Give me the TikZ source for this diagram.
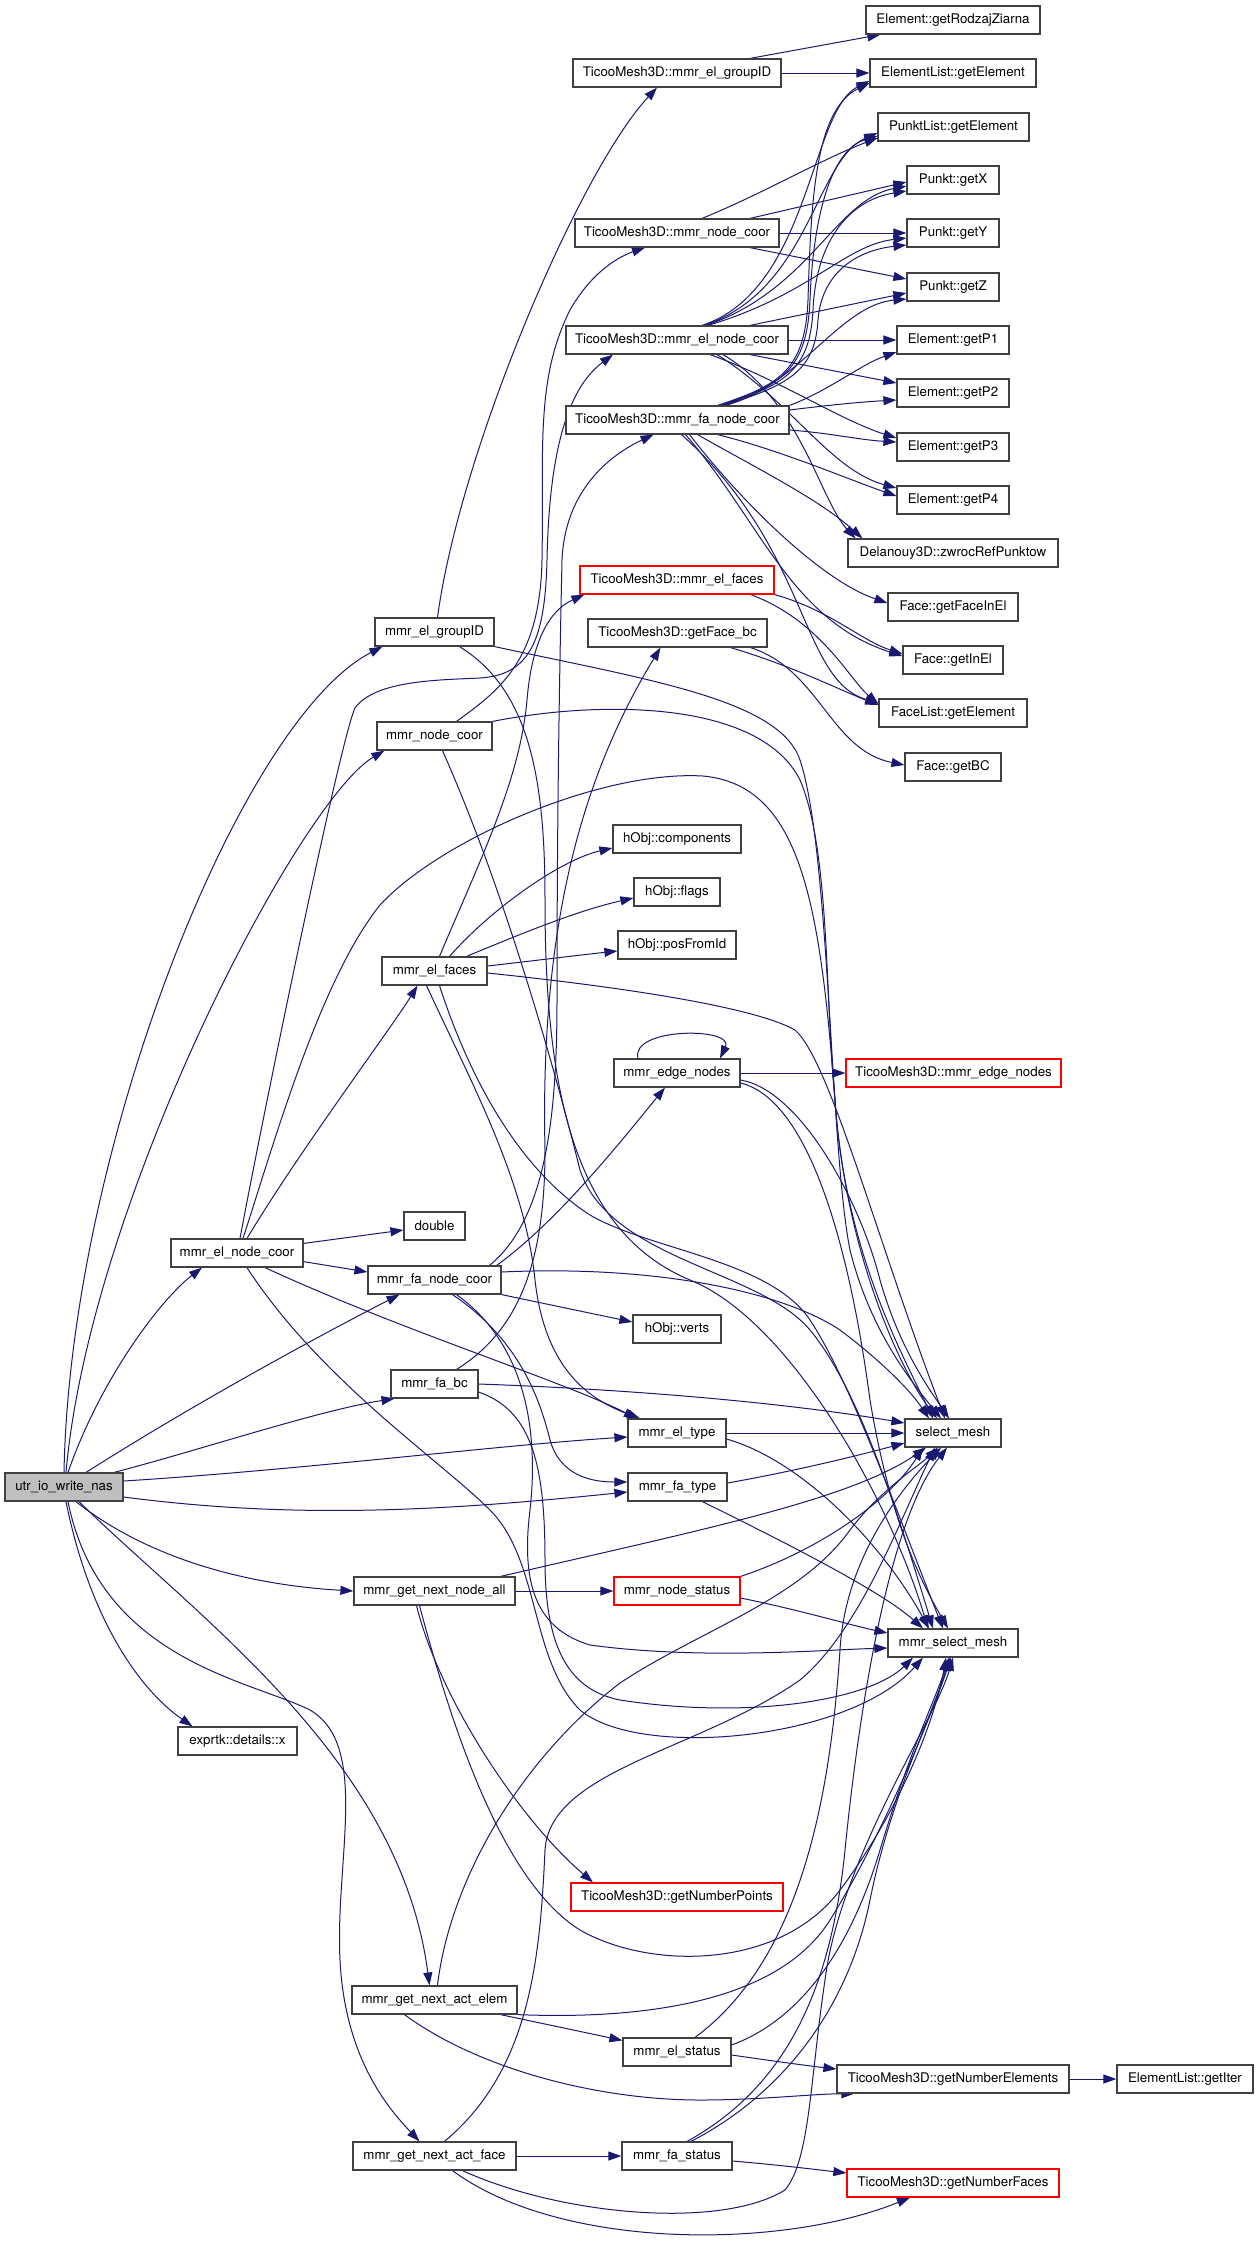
\documentclass[tikz,border=0pt]{standalone}
\usepackage{fontspec}
\setmainfont{TeX Gyre Heros}
\usetikzlibrary{arrows.meta}
\definecolor{edgec}{HTML}{191970}
\definecolor{boxc}{HTML}{404040}
\definecolor{redc}{HTML}{FF0000}
\definecolor{grayf}{HTML}{BFBFBF}
\pgfdeclarelayer{bg}
\pgfsetlayers{bg,main}
\tikzset{
  fn/.style={draw=boxc, line width=1.2pt, fill=white, minimum height=28pt, inner xsep=2pt, inner ysep=0pt, font=\fontsize{13.3}{15}\selectfont},
  fnred/.style={fn, draw=redc},
  e/.style={draw=edgec, line width=1pt, -{Triangle[length=13pt,width=9pt]}},
}
\begin{document}
\begin{tikzpicture}[x=1pt,y=-1pt]
\useasboundingbox (0,0) rectangle (1259,2244);
% column 0-2
\node[fn,fill=grayf,minimum width=118pt] (U) at (64,1487) {utr\_io\_write\_nas};
\node[fn,minimum width=132pt] (ENC) at (237,1253) {mmr\_el\_node\_coor};
\node[fn,minimum width=119pt] (X) at (237.5,1741) {exprtk::details::x};
\node[fn,minimum width=119pt] (G) at (434.5,632) {mmr\_el\_groupID};
\node[fn,minimum width=115pt] (N) at (434.5,736) {mmr\_node\_coor};
\node[fn,minimum width=105pt] (EF) at (434.5,971) {mmr\_el\_faces};
\node[fn,minimum width=61pt] (DBL) at (434.5,1226) {double};
\node[fn,minimum width=133pt] (FNC) at (434.5,1280) {mmr\_fa\_node\_coor};
\node[fn,minimum width=87pt] (FBC) at (434.5,1384) {mmr\_fa\_bc};
\node[fn,minimum width=161pt] (GNNA) at (434.5,1591) {mmr\_get\_next\_node\_all};
\node[fn,minimum width=165pt] (GNAE) at (434.5,2000) {mmr\_get\_next\_act\_elem};
\node[fn,minimum width=163pt] (GNAF) at (434.5,2156) {mmr\_get\_next\_act\_face};
% column 3
\node[fn,minimum width=208pt] (TG) at (677,73) {TicooMesh3D::mmr\_el\_groupID};
\node[fn,minimum width=204pt] (TN) at (677,233) {TicooMesh3D::mmr\_node\_coor};
\node[fn,minimum width=222pt] (TE) at (677,340) {TicooMesh3D::mmr\_el\_node\_coor};
\node[fn,minimum width=223pt] (TF) at (677.5,420) {TicooMesh3D::mmr\_fa\_node\_coor};
\node[fnred,minimum width=194pt] (TEF) at (677,580) {TicooMesh3D::mmr\_el\_faces};
\node[fn,minimum width=179pt] (TFB) at (677.5,633) {TicooMesh3D::getFace\_bc};
\node[fn,minimum width=128pt] (HC) at (677,839) {hObj::components};
\node[fn,minimum width=86pt] (HF) at (677,892) {hObj::flags};
\node[fn,minimum width=118pt] (HP) at (677,945) {hObj::posFromId};
\node[fn,minimum width=126pt] (EN) at (677,1073) {mmr\_edge\_nodes};
\node[fn,minimum width=88pt] (HV) at (677,1329) {hObj::verts};
\node[fn,minimum width=98pt] (ET) at (677,1433) {mmr\_el\_type};
\node[fn,minimum width=99pt] (FT) at (677.5,1487) {mmr\_fa\_type};
\node[fnred,minimum width=126pt] (NS) at (677,1591) {mmr\_node\_status};
\node[fnred,minimum width=212pt] (GNP) at (677,1897) {TicooMesh3D::getNumberPoints};
\node[fn,minimum width=108pt] (ES) at (677,2052) {mmr\_el\_status};
\node[fn,minimum width=110pt] (FS) at (677,2156) {mmr\_fa\_status};
% column 4
\node[fn,minimum width=174pt] (RZ) at (953,20) {Element::getRodzajZiarna};
\node[fn,minimum width=166pt] (ELG) at (953,73) {ElementList::getElement};
\node[fn,minimum width=151pt] (PLG) at (953.5,127) {PunktList::getElement};
\node[fn,minimum width=92pt] (PX) at (953,180) {Punkt::getX};
\node[fn,minimum width=92pt] (PY) at (953,233) {Punkt::getY};
\node[fn,minimum width=92pt] (PZ) at (953,287) {Punkt::getZ};
\node[fn,minimum width=112pt] (P1) at (953,340) {Element::getP1};
\node[fn,minimum width=112pt] (P2) at (953,393) {Element::getP2};
\node[fn,minimum width=112pt] (P3) at (953,447) {Element::getP3};
\node[fn,minimum width=112pt] (P4) at (953,500) {Element::getP4};
\node[fn,minimum width=210pt] (DZ) at (953,553) {Delanouy3D::zwrocRefPunktow};
\node[fn,minimum width=130pt] (FIE) at (953,607) {Face::getFaceInEl};
\node[fn,minimum width=100pt] (FIN) at (953,660) {Face::getInEl};
\node[fn,minimum width=148pt] (FLG) at (953,713) {FaceList::getElement};
\node[fn,minimum width=96pt] (FBCn) at (953,767) {Face::getBC};
\node[fnred,minimum width=215pt] (TEN) at (953.5,1073) {TicooMesh3D::mmr\_edge\_nodes};
\node[fn,minimum width=96pt] (SM) at (953,1433) {select\_mesh};
\node[fn,minimum width=130pt] (MSM) at (953,1643) {mmr\_select\_mesh};
\node[fn,minimum width=232pt] (GNE) at (953,2079) {TicooMesh3D::getNumberElements};
\node[fnred,minimum width=212pt] (GNF) at (953,2183) {TicooMesh3D::getNumberFaces};
\node[fn,minimum width=136pt] (EGI) at (1185,2079) {ElementList::getIter};

\begin{pgfonlayer}{bg}
% utr_io_write_nas
\draw[e] (U.north) .. controls (70,1150) and (240,720) .. ([xshift=8pt]G.south west);
\draw[e] ([xshift=2pt]U.north) .. controls (90,1200) and (300,800) .. ([xshift=8pt]N.south west);
\draw[e] ([xshift=4pt]U.north) .. controls (100,1380) and (160,1300) .. ([xshift=-35pt]ENC.south);
\draw[e] ([xshift=22pt]U.north) .. controls (200,1400) and (330,1330) .. ([xshift=-35pt]FNC.south);
\draw[e] ([xshift=50pt]U.north) .. controls (200,1450) and (320,1410) .. ([xshift=-40pt]FBC.south);
\draw[e] ([yshift=6pt]U.east) .. controls (300,1470) and (500,1445) .. ([yshift=-4pt]ET.west);
\draw[e] ([yshift=-10pt]U.east) .. controls (300,1520) and (450,1510) .. ([yshift=-5pt]FT.west);
\draw[e] ([xshift=12pt]U.south) .. controls (150,1560) and (250,1585) .. (GNNA.west);
\draw[e] ([xshift=2pt]U.south) .. controls (90,1620) and (140,1690) .. ([xshift=-45pt]X.north);
\draw[e] ([xshift=15pt]U.south) .. controls (200,1620) and (400,1760) .. ([xshift=-5pt]GNAE.north);
\draw[e] ([xshift=4pt]U.south) .. controls (100,1660) and (250,1680) .. (310,1710) .. controls (370,1745) and (335,1860) .. (340,1960) .. controls (345,2060) and (390,2110) .. ([xshift=-15pt]GNAF.north);
% mmr_el_node_coor
\draw[e] ([xshift=3pt]ENC.north) .. controls (262,1120) and (340,740) .. (355,708) .. controls (375,680) and (440,680) .. (480,678) .. controls (530,675) and (545,640) .. (547,560) .. controls (549,460) and (565,390) .. ([xshift=-64pt]TE.south);
\draw[e] ([xshift=6pt]ENC.north) .. controls (275,1140) and (320,980) .. (380,905) .. controls (440,840) and (600,770) .. (703,776) .. controls (800,785) and (820,900) .. (835,1100) .. controls (845,1250) and (900,1350) .. ([xshift=-20pt]SM.north);
\draw[e] ([xshift=10pt]ENC.north) .. controls (300,1150) and (390,1030) .. ([xshift=-17pt]EF.south);
\draw[e] ([yshift=-5pt]ENC.north east) -- ([yshift=-4pt]DBL.west);
\draw[e] ([yshift=6pt]ENC.south east) -- ([yshift=8pt]FNC.west);
\draw[e] ([xshift=28pt]ENC.south) .. controls (400,1330) and (560,1380) .. ([xshift=-40pt]ET.north);
\draw[e] ([xshift=10pt]ENC.south) .. controls (320,1380) and (440,1460) .. (490,1510) .. controls (540,1560) and (530,1660) .. (580,1710) .. controls (640,1760) and (850,1740) .. ([xshift=-30pt]MSM.south);
% mmr_el_groupID
\draw[e] ([xshift=3pt]G.north) .. controls (460,450) and (580,170) .. ([xshift=-20pt]TG.south);
\draw[e] (G.south east) .. controls (650,680) and (780,700) .. (800,760) .. controls (830,850) and (830,1150) .. (850,1250) .. controls (870,1330) and (910,1380) .. ([xshift=-12pt]SM.north);
\draw[e] ([xshift=25pt]G.south) .. controls (530,690) and (545,780) .. (545,900) .. controls (545,1080) and (570,1230) .. (690,1280) .. controls (790,1320) and (890,1500) .. ([xshift=-25pt]MSM.north);
% mmr_node_coor
\draw[e] ([xshift=22pt]N.north) .. controls (500,690) and (540,660) .. (542,560) .. controls (544,450) and (535,380) .. (570,310) .. controls (590,275) and (615,258) .. ([xshift=-32pt]TN.south);
\draw[e] (N.north east) .. controls (600,700) and (760,700) .. (800,780) .. controls (830,850) and (825,1000) .. (835,1100) .. controls (845,1250) and (900,1370) .. ([xshift=-16pt]SM.north);
\draw[e] ([xshift=8pt]N.south) .. controls (500,880) and (550,1050) .. (580,1170) .. controls (610,1260) and (760,1270) .. (810,1330) .. controls (860,1390) and (900,1520) .. ([xshift=-20pt]MSM.north);
% mmr_el_faces
\draw[e] ([xshift=5pt]EF.north) .. controls (480,860) and (520,780) .. (527,700) .. controls (532,640) and (550,610) .. ([xshift=5pt]TEF.south west);
\draw[e] ([xshift=15pt]EF.north) .. controls (490,910) and (560,860) .. ([yshift=-9pt]HC.west);
\draw[e] ([xshift=32pt]EF.north) .. controls (530,930) and (580,910) .. ([yshift=-6pt]HF.west);
\draw[e] ([yshift=5pt]EF.east) .. controls (540,960) and (580,955) .. ([yshift=-6pt]HP.west);
\draw[e] ([yshift=-2pt]EF.east) .. controls (650,990) and (760,1010) .. (795,1030) .. controls (830,1060) and (880,1250) .. ([xshift=-8pt]SM.north);
\draw[e] ([xshift=-8pt]EF.south) .. controls (470,1080) and (525,1180) .. (535,1280) .. controls (545,1370) and (590,1400) .. ([xshift=-37pt]ET.north);
\draw[e] ([xshift=5pt]EF.south) .. controls (470,1080) and (520,1170) .. (590,1215) .. controls (650,1250) and (770,1260) .. (810,1320) .. controls (850,1380) and (900,1520) .. ([xshift=-10pt]MSM.north);
% mmr_fa_node_coor
\draw[e] ([xshift=55pt]FNC.north) .. controls (545,1220) and (557,1120) .. (557,1000) .. controls (557,800) and (560,650) .. (562,560) .. controls (565,490) and (610,455) .. ([xshift=-24pt]TF.south);
\draw[e] ([xshift=-5pt]FNC.north east) .. controls (560,1220) and (630,1130) .. ([xshift=-12pt]EN.south);
\draw[e] ([yshift=8pt]FNC.east) .. controls (650,1265) and (780,1290) .. (840,1330) .. controls (880,1360) and (910,1390) .. ([xshift=-24pt]SM.north);
\draw[e] (FNC.south east) -- ([yshift=7pt]HV.west);
\draw[e] ([xshift=18pt]FNC.south) .. controls (520,1340) and (540,1400) .. (550,1440) .. controls (560,1475) and (590,1482) .. ([yshift=5pt]FT.west);
\draw[e] ([xshift=22pt]FNC.south) .. controls (520,1340) and (540,1420) .. (530,1510) .. controls (520,1590) and (540,1630) .. (590,1645) .. controls (700,1660) and (820,1650) .. ([yshift=-5pt]MSM.west);
% mmr_fa_bc
\draw[e] ([xshift=22pt]FBC.north) .. controls (520,1330) and (545,1260) .. (545,1150) .. controls (540,930) and (580,780) .. ([xshift=-17pt]TFB.south);
\draw[e] (FBC.east) .. controls (650,1390) and (800,1405) .. ([yshift=10pt]SM.west);
\draw[e] ([yshift=-8pt]FBC.east) .. controls (530,1410) and (545,1460) .. (545,1560) .. controls (545,1650) and (570,1690) .. (620,1700) .. controls (750,1720) and (870,1700) .. ([xshift=-40pt]MSM.south);
% mmr_edge_nodes
\draw[e] ([xshift=-39pt]EN.north) .. controls (630,1027) and (735,1027) .. ([xshift=43pt]EN.north);
\draw[e] (EN.east) -- (TEN.west);
\draw[e] ([yshift=-7pt]EN.east) .. controls (800,1090) and (860,1200) .. (880,1280) .. controls (900,1350) and (930,1390) .. ([xshift=-4pt]SM.north);
\draw[e] ([yshift=-10pt]EN.east) .. controls (810,1100) and (850,1250) .. (870,1400) .. controls (890,1520) and (920,1580) .. ([xshift=-5pt]MSM.north);
% el_type, fa_type
\draw[e] (ET.east) -- (SM.west);
\draw[e] ([yshift=-6pt]ET.east) .. controls (800,1460) and (880,1540) .. ([xshift=-24pt]MSM.north);
\draw[e] ([yshift=4pt]FT.east) .. controls (800,1470) and (860,1455) .. ([yshift=-10pt]SM.west);
\draw[e] ([xshift=25pt]FT.south) .. controls (780,1540) and (880,1590) .. ([xshift=-30pt]MSM.north);
% node_status
\draw[e] (NS.north east) .. controls (820,1550) and (890,1500) .. ([xshift=-30pt]SM.south);
\draw[e] ([yshift=-7pt]NS.east) .. controls (800,1610) and (850,1625) .. ([yshift=10pt]MSM.west);
% get_next_node_all
\draw[e] (GNNA.east) -- (NS.west);
\draw[e] ([xshift=-15pt]GNNA.north east) .. controls (700,1530) and (850,1500) .. ([xshift=-27pt]SM.south);
\draw[e] ([xshift=-18pt]GNNA.south) .. controls (440,1700) and (520,1820) .. ([xshift=-84pt]GNP.north);
\draw[e] ([xshift=-15pt]GNNA.south) .. controls (450,1720) and (500,1880) .. (580,1930) .. controls (650,1970) and (780,1970) .. (840,1890) .. controls (900,1810) and (935,1720) .. ([xshift=-7pt]MSM.south);
% get_next_act_elem
\draw[e] ([xshift=3pt]GNAE.north) .. controls (450,1880) and (520,1760) .. (620,1683) .. controls (700,1630) and (800,1600) .. (850,1530) .. controls (880,1490) and (920,1465) .. ([xshift=-15pt]SM.south);
\draw[e] ([xshift=-17pt]GNAE.south east) -- ([yshift=-3pt]ES.north west);
\draw[e] (GNAE.south east) .. controls (650,2020) and (780,2000) .. (830,1920) .. controls (880,1840) and (930,1720) .. ([xshift=-2pt]MSM.south);
\draw[e] ([xshift=-30pt]GNAE.south) .. controls (480,2070) and (600,2100) .. (700,2100) .. controls (760,2100) and (810,2094) .. ([xshift=18pt]GNE.south west);
% el_status
\draw[e] ([xshift=18pt]ES.north) .. controls (800,1960) and (830,1800) .. (840,1650) .. controls (845,1560) and (900,1490) .. ([xshift=-12pt]SM.south);
\draw[e] ([yshift=7pt]ES.east) .. controls (800,2020) and (850,1950) .. (880,1850) .. controls (910,1750) and (935,1700) .. ([xshift=-4pt]MSM.south);
\draw[e] ([yshift=-3pt]ES.east) .. controls (780,2062) and (810,2066) .. ([yshift=10pt]GNE.west);
% fa_status
\draw[e] ([xshift=10pt]FS.north) .. controls (780,2090) and (830,2000) .. (845,1850) .. controls (860,1700) and (890,1520) .. ([xshift=-6pt]SM.south);
\draw[e] ([xshift=14pt]FS.north) .. controls (790,2090) and (850,2000) .. (870,1900) .. controls (890,1800) and (930,1720) .. ([xshift=-3pt]MSM.south);
\draw[e] ([yshift=-5pt]FS.east) .. controls (780,2165) and (820,2170) .. ([yshift=10pt]GNF.west);
% get_next_act_face
\draw[e] (GNAF.east) -- (FS.west);
\draw[e] ([xshift=10pt]GNAF.north) .. controls (530,2070) and (540,1960) .. (545,1850) .. controls (550,1770) and (700,1750) .. (800,1680) .. controls (860,1630) and (900,1520) .. ([xshift=-18pt]SM.south);
\draw[e] ([xshift=28pt]GNAF.south) .. controls (560,2215) and (720,2230) .. (785,2190) .. controls (810,2160) and (810,2080) .. (825,1980) .. controls (840,1860) and (935,1720) .. (MSM.south);
\draw[e] ([xshift=18pt]GNAF.south) .. controls (560,2250) and (780,2250) .. ([xshift=-43pt]GNF.south);
\draw[e] (GNE.east) -- (EGI.west);
% TicooMesh3D column
\draw[e] ([xshift=73pt]TG.north) -- ([xshift=15pt]RZ.south west);
\draw[e] (TG.east) -- (ELG.west);
\draw[e] ([xshift=25pt]TN.north) .. controls (760,195) and (820,160) .. ([yshift=-11pt]PLG.west);
\draw[e] ([xshift=73pt]TN.north) -- ([yshift=-2pt]PX.west);
\draw[e] (TN.east) -- (PY.west);
\draw[e] ([xshift=73pt]TN.south) -- ([yshift=8pt]PZ.west);
\draw[e] ([xshift=25pt]TE.north) .. controls (810,290) and (810,110) .. ([yshift=-8pt]ELG.west);
\draw[e] ([xshift=27pt]TE.north) .. controls (810,290) and (815,160) .. ([yshift=-6pt]PLG.west);
\draw[e] ([xshift=29pt]TE.north) .. controls (810,290) and (835,200) .. ([yshift=-6pt]PX.west);
\draw[e] ([xshift=31pt]TE.north) .. controls (810,295) and (845,245) .. ([yshift=-5pt]PY.west);
\draw[e] ([xshift=73pt]TE.north) -- ([yshift=-6pt]PZ.west);
\draw[e] (TE.east) -- (P1.west);
\draw[e] ([xshift=73pt]TE.south) -- ([yshift=10pt]P2.west);
\draw[e] ([xshift=33pt]TE.south) .. controls (780,380) and (840,420) .. ([yshift=9pt]P3.west);
\draw[e] ([xshift=40pt]TE.south) .. controls (790,400) and (830,470) .. ([yshift=12pt]P4.west);
\draw[e] ([xshift=46pt]TE.south) .. controls (800,400) and (820,500) .. ([xshift=8pt]DZ.north west);
\draw[e] ([xshift=40pt]TF.north) .. controls (780,385) and (805,370) .. (808,300) .. controls (811,200) and (815,110) .. ([yshift=-10pt]ELG.west);
\draw[e] ([xshift=42pt]TF.north) .. controls (782,385) and (807,370) .. (810,300) .. controls (813,220) and (830,150) .. ([yshift=-9pt]PLG.west);
\draw[e] ([xshift=44pt]TF.north) .. controls (785,385) and (810,370) .. (813,310) .. controls (816,240) and (850,200) .. ([yshift=-11pt]PX.west);
\draw[e] ([xshift=46pt]TF.north) .. controls (790,385) and (815,370) .. (818,320) .. controls (822,270) and (860,250) .. ([yshift=-12pt]PY.west);
\draw[e] ([xshift=48pt]TF.north) .. controls (800,385) and (840,305) .. ([yshift=-12pt]PZ.west);
\draw[e] (TF.north east) .. controls (830,390) and (860,365) .. ([yshift=-12pt]P1.west);
\draw[e] ([yshift=10pt]TF.east) .. controls (830,405) and (860,402) .. ([yshift=-7pt]P2.west);
\draw[e] ([yshift=-10pt]TF.east) .. controls (830,433) and (860,440) .. ([yshift=5pt]P3.west);
\draw[e] ([xshift=40pt]TF.south) .. controls (780,450) and (850,480) .. ([yshift=4pt]P4.west);
\draw[e] ([xshift=20pt]TF.south) .. controls (760,470) and (820,500) .. ([xshift=15pt]DZ.north west);
\draw[e] ([xshift=12pt]TF.south) .. controls (740,500) and (820,580) .. ([yshift=4pt]FIE.west);
\draw[e] ([xshift=8pt]TF.south) .. controls (760,520) and (790,620) .. ([yshift=4pt]FIN.west);
\draw[e] ([xshift=4pt]TF.south) .. controls (810,550) and (800,680) .. ([yshift=10pt]FLG.west);
\draw[e] (TEF.south east) .. controls (830,610) and (860,640) .. ([yshift=6pt]FIN.west);
\draw[e] ([xshift=-24pt]TEF.south east) .. controls (820,620) and (850,680) .. ([yshift=9pt]FLG.west);
\draw[e] ([xshift=-37pt]TFB.south east) .. controls (790,665) and (840,690) .. ([yshift=8pt]FLG.west);
\draw[e] ([xshift=-17pt]TFB.south east) .. controls (820,670) and (830,750) .. ([yshift=2pt]FBCn.west);
\end{pgfonlayer}
\end{tikzpicture}
\end{document}
